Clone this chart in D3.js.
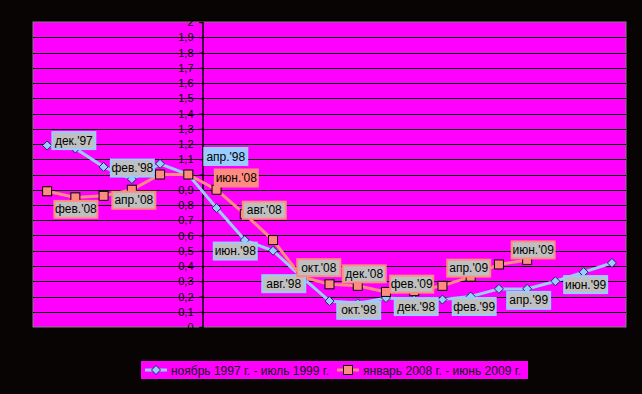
<!DOCTYPE html>
<html>
<head>
<meta charset="utf-8">
<script src="https://cdn.jsdelivr.net/npm/d3@7"></script>
<style>
  body { margin: 0; background: #080404; }
  svg { display: block; font-family: "Liberation Sans", Arial, sans-serif; }
</style>
</head>
<body>
<svg id="chart" width="642" height="394"></svg>
<script>
// month names of each series
var blueMonths = ["ноя.'97", "дек.'97", "янв.'98", "фев.'98", "мар.'98", "апр.'98", "май.'98",
  "июн.'98", "июл.'98", "авг.'98", "сен.'98", "окт.'98", "ноя.'98", "дек.'98", "янв.'99",
  "фев.'99", "мар.'99", "апр.'99", "май.'99", "июн.'99", "июл.'99"];
var orangeMonths = ["янв.'08", "фев.'08", "мар.'08", "апр.'08", "май.'08", "июн.'08", "июл.'08",
  "авг.'08", "сен.'08", "окт.'08", "ноя.'08", "дек.'08", "янв.'09", "фев.'09", "мар.'09",
  "апр.'09", "май.'09", "июн.'09"];
// series values
var blueValues = [1.19, 1.17, 1.05, 0.97, 1.07, 1.0, 0.78, 0.57, 0.50, 0.33, 0.17, 0.155,
  0.19, 0.18, 0.18, 0.20, 0.25, 0.25, 0.30, 0.36, 0.42];
var orangeValues = [0.89, 0.85, 0.86, 0.90, 1.0, 1.0, 0.90, 0.74, 0.57, 0.33, 0.28, 0.27,
  0.23, 0.235, 0.27, 0.33, 0.41, 0.44];
var yTicks = d3.range(0, 21).map(function(i) { return i / 10; });
var legendNames = ["ноябрь 1997 г. - июль 1999 г.", "январь 2008 г. - июнь 2009 г."];

// label placement (index in series, offset of box centre from the point)
var blueLabels = [[1, -1.5, -8], [3, 0.5, -11], [5, 37.5, -18], [7, -9.5, 11], [9, -17.5, 7],
  [11, 1, 7], [13, 2, 7], [15, 3.5, 10], [17, 1.5, 11.5], [19, 2, 12.5]];
var orangeLabels = [[1, 0.5, 12], [3, 2, 10.5], [5, 48, 3.5], [7, 19.5, -4], [9, 17.5, -9],
  [11, 6.5, -12], [13, -2.5, -7], [15, -2, -8.5], [17, 6, -10]];

var blueColor = "#99ccff";
var orangeColor = "#ff8c80";

var svg = d3.select("#chart");
var plotLeft = 33, plotRight = 626, plotTop = 22, plotBottom = 327;

var x = d3.scaleBand().domain(d3.range(blueValues.length)).range([plotLeft, plotRight]);
var y = d3.scaleLinear().domain([0, 2]).range([plotBottom, plotTop]);
function px(i) { return x(i) + x.bandwidth() / 2; }

// plot area
svg.append("rect")
  .attr("x", plotLeft).attr("y", plotTop)
  .attr("width", plotRight - plotLeft).attr("height", plotBottom - plotTop)
  .attr("fill", "#ff00ff")
  .attr("stroke", "#808080").attr("stroke-width", 1);

// gridlines
svg.append("g").selectAll("line")
  .data(yTicks.slice(1, -1))
  .enter().append("line")
  .attr("x1", plotLeft).attr("x2", plotRight)
  .attr("y1", function(d) { return Math.round(y(d)) + 0.5; })
  .attr("y2", function(d) { return Math.round(y(d)) + 0.5; })
  .attr("stroke", "#000").attr("stroke-width", 1.2);

// y axis in the middle of the plot
var axisX = 202.5;
var yAxis = svg.append("g")
  .attr("transform", "translate(" + axisX + ",0)")
  .call(d3.axisLeft(y).tickValues(yTicks).tickSize(3).tickPadding(6)
    .tickFormat(function(d) { return d3.format(".1f")(d).replace(".0", "").replace(".", ","); }));
yAxis.select(".domain").attr("stroke", "#000").attr("stroke-width", 1.5);
yAxis.selectAll(".tick line").attr("stroke", "#000");
yAxis.selectAll(".tick text")
  .attr("fill", "#000").attr("font-size", 11)
  .attr("font-family", "Liberation Sans, Arial, sans-serif");

var line = d3.line()
  .x(function(d, i) { return px(i); })
  .y(function(d) { return y(d); });

function diamond(sel, cx, cy) {
  sel.append("path")
    .attr("d", "M" + cx + "," + (cy - 4.5) + "L" + (cx + 4.5) + "," + cy + "L" + cx + "," + (cy + 4.5) + "L" + (cx - 4.5) + "," + cy + "Z")
    .attr("fill", blueColor).attr("stroke", "#1a2a60").attr("stroke-width", 1);
}

// blue series
svg.append("path").datum(blueValues)
  .attr("d", line).attr("fill", "none")
  .attr("stroke", blueColor).attr("stroke-width", 3);
var blueMarks = svg.append("g");
blueValues.forEach(function(d, i) { diamond(blueMarks, px(i), y(d)); });

// orange series
svg.append("path").datum(orangeValues)
  .attr("d", line).attr("fill", "none")
  .attr("stroke", orangeColor).attr("stroke-width", 3);
svg.append("g").selectAll("rect")
  .data(orangeValues)
  .enter().append("rect")
  .attr("x", function(d, i) { return px(i) - 4.5; })
  .attr("y", function(d) { return y(d) - 4.5; })
  .attr("width", 9).attr("height", 9)
  .attr("fill", orangeColor).attr("stroke", "#000").attr("stroke-width", 1);

// data labels
function drawLabels(labels, values, months, color, filled) {
  labels.forEach(function(l) {
    var i = l[0];
    var cx = px(i) + l[1], cy = y(values[i]) + l[2];
    var g = svg.append("g");
    g.append("rect")
      .attr("x", cx - 21.5).attr("y", cy - 8.5)
      .attr("width", 43).attr("height", 17)
      .attr("fill", filled === i ? color : "#c0c0c0")
      .attr("stroke", color).attr("stroke-width", 2);
    g.append("text")
      .attr("x", cx).attr("y", cy + 4)
      .attr("text-anchor", "middle")
      .attr("font-size", 12).attr("fill", "#000")
      .text(months[i]);
  });
}
drawLabels(blueLabels, blueValues, blueMonths, blueColor, 5);
drawLabels(orangeLabels, orangeValues, orangeMonths, orangeColor, 5);

// legend
var legend = svg.append("g");
legend.append("rect")
  .attr("x", 141).attr("y", 361).attr("width", 387).attr("height", 18)
  .attr("fill", "#ff00ff");
legend.append("line")
  .attr("x1", 145).attr("x2", 167).attr("y1", 370).attr("y2", 370)
  .attr("stroke", blueColor).attr("stroke-width", 3);
diamond(legend, 156, 370);
legend.append("text")
  .attr("x", 171).attr("y", 374.5)
  .attr("font-size", 12).attr("fill", "#111")
  .attr("textLength", 158).attr("lengthAdjust", "spacing")
  .text(legendNames[0]);
legend.append("line")
  .attr("x1", 337).attr("x2", 359).attr("y1", 370).attr("y2", 370)
  .attr("stroke", orangeColor).attr("stroke-width", 3);
legend.append("rect")
  .attr("x", 343.5).attr("y", 365.5).attr("width", 9).attr("height", 9)
  .attr("fill", orangeColor).attr("stroke", "#000").attr("stroke-width", 1);
legend.append("text")
  .attr("x", 363).attr("y", 374.5)
  .attr("font-size", 12).attr("fill", "#111")
  .attr("textLength", 158).attr("lengthAdjust", "spacing")
  .text(legendNames[1]);
</script>
</body>
</html>
